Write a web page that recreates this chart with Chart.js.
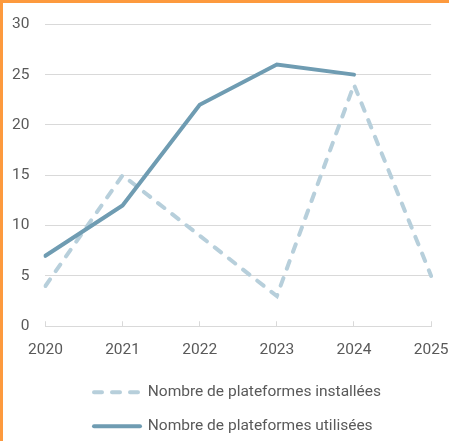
<!DOCTYPE html>
<html>
<head>
<meta charset="utf-8">
<script src="https://cdn.jsdelivr.net/npm/chart.js@4.4.1/dist/chart.umd.min.js"></script>
<style>
  html, body { margin: 0; padding: 0; background: #fff; }
  #wrap {
    width: 449px; height: 441px; box-sizing: border-box; overflow: hidden;
    border-left: 3px solid #fd9a3e; border-top: 3px solid #fd9a3e;
  }
  canvas { display: block; margin-top: -4px; }
</style>
</head>
<body>
<div id="wrap"><canvas id="chart" width="452" height="445"></canvas></div>
<script>
var years = ['2020', '2021', '2022', '2023', '2024', '2025'];
var installees = [4, 15, 9, 3, 24, 5];
var utilisees = [7, 12, 22, 26, 25, null];
var yTicks = [0, 5, 10, 15, 20, 25, 30];

var textColor = '#595959';
var gridColor = '#d9d9d9';
Chart.defaults.font.family = 'Roboto, "Liberation Sans", sans-serif';
Chart.defaults.font.size = 15.5;
Chart.defaults.color = textColor;

// in the original both legend rows start at the same x, a bit right of the plot's left edge
var legendShift = {
  id: 'legendShift',
  beforeDraw: function (chart) {
    chart.legend.left = 72.5;
  }
};

new Chart(document.getElementById('chart').getContext('2d'), {
  type: 'line',
  data: {
    labels: years,
    datasets: [{
      label: 'Nombre de plateformes installées',
      data: installees,
      borderColor: '#b7cfdb',
      backgroundColor: '#b7cfdb',
      borderWidth: 4,
      borderDash: [8, 10],
      borderCapStyle: 'round',
      pointRadius: 0,
      tension: 0,
      order: 1
    }, {
      label: 'Nombre de plateformes utilisées',
      data: utilisees,
      borderColor: '#6f9cb2',
      backgroundColor: '#6f9cb2',
      borderWidth: 4,
      borderCapStyle: 'round',
      pointRadius: 0,
      tension: 0,
      order: 0
    }]
  },
  plugins: [legendShift],
  options: {
    responsive: false,
    animation: false,
    layout: { padding: { left: -7, top: 0, right: 0, bottom: 0 } },
    plugins: {
      tooltip: { enabled: false },
      legend: {
        position: 'bottom',
        align: 'start',
        labels: {
          usePointStyle: true,
          pointStyle: 'line',
          pointStyleWidth: 46,
          boxWidth: 46,
          padding: 18.5,
          color: textColor,
          sort: function (a, b) { return a.datasetIndex - b.datasetIndex; },
          // point-style items lose the dataset's dash, put it back
          generateLabels: function (chart) {
            var items = Chart.defaults.plugins.legend.labels.generateLabels(chart);
            items.forEach(function (it) {
              var ds = chart.data.datasets[it.datasetIndex];
              it.lineDash = ds.borderDash || [];
              it.lineWidth = ds.borderWidth;
              it.lineCap = 'round';
              it.strokeStyle = ds.borderColor;
            });
            return items;
          }
        }
      }
    },
    scales: {
      x: {
        offset: false,
        // short marks standing up from the axis, made from the bottom end of each grid line
        grid: {
          drawOnChartArea: true,
          drawTicks: true,
          tickLength: 8.25,
          tickColor: 'rgba(0,0,0,0)',
          color: gridColor
        },
        border: {
          display: true,
          color: gridColor,
          dash: [5, 2000],
          dashOffset: function (ctx) {
            var a = ctx.chart.chartArea;
            return a ? -(a.bottom - a.top - 5) : 0;
          }
        },
        ticks: { padding: 6.45, maxRotation: 0, autoSkip: false, font: { lineHeight: 1.2 } }
      },
      y: {
        min: 0,
        max: 30,
        afterBuildTicks: function (axis) {
          axis.ticks = yTicks.map(function (v) { return { value: v }; });
        },
        grid: { color: gridColor, drawTicks: false },
        border: { display: false },
        ticks: { padding: 16 }
      }
    }
  }
});
</script>
</body>
</html>
